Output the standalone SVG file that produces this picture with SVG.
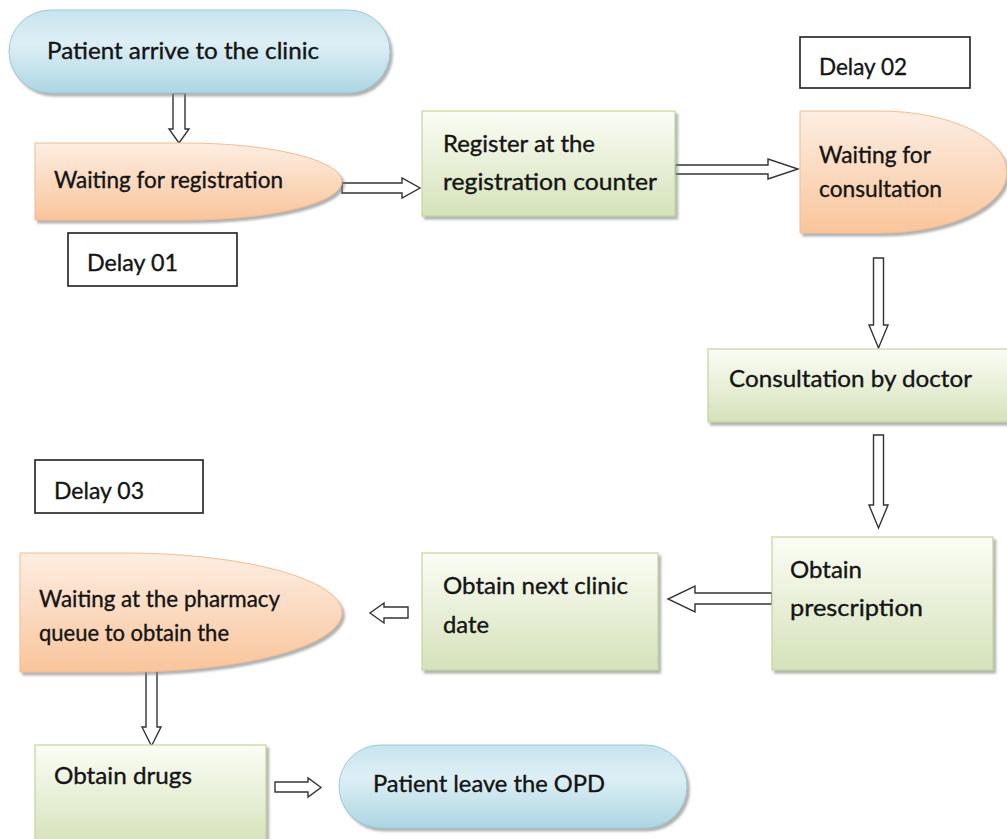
<svg xmlns="http://www.w3.org/2000/svg" width="1007" height="839" viewBox="0 0 1007 839">
<defs>
<linearGradient id="gBlue" x1="0" y1="0" x2="0" y2="1">
<stop offset="0" stop-color="#c8e4ee"/>
<stop offset="0.4" stop-color="#ddeff5"/>
<stop offset="1" stop-color="#acd6e3"/>
</linearGradient>
<linearGradient id="gOrange" x1="0" y1="0" x2="0" y2="1">
<stop offset="0" stop-color="#fdeee3"/>
<stop offset="1" stop-color="#f9c59b"/>
</linearGradient>
<linearGradient id="gGreen" x1="0" y1="0" x2="0" y2="1">
<stop offset="0" stop-color="#fbfdf5"/>
<stop offset="1" stop-color="#d5e2ba"/>
</linearGradient>
<filter id="sh" x="-10%" y="-10%" width="130%" height="140%">
<feDropShadow dx="2.5" dy="3" stdDeviation="1.2" flood-color="#7f7f7f" flood-opacity="0.6"/>
</filter>
<style>
.t{font-family:Lato,"Liberation Sans",sans-serif;font-size:23.5px;fill:#141414;stroke:#141414;stroke-width:0.35}
.blue{fill:url(#gBlue);stroke:#9cc8d7;stroke-width:1;filter:url(#sh)}
.orange{fill:url(#gOrange);stroke:#f4bb90;stroke-width:1;filter:url(#sh)}
.green{fill:url(#gGreen);stroke:#c3d69b;stroke-width:1.2;filter:url(#sh)}
.delay{fill:#fff;stroke:#1e1e1e;stroke-width:1.6}
.arrow{fill:#fff;stroke:#333;stroke-width:1.4;stroke-linejoin:miter}
</style>
</defs>
<rect width="1007" height="839" fill="#fff"/>

<g id="connectors">
<path class="arrow" d="M173,93 H185 V129 H189 L179,143 L169,129 H173 Z"/>
<path class="arrow" d="M342,183 H402 V178 L420,188 L402,198 V193 H342 Z"/>
<path class="arrow" d="M675,165 H768 V159 L798,169 L768,179 V174 H675 Z"/>
<path class="arrow" d="M873.5,258 H883.5 V325 H888 L878.5,348 L869,325 H873.5 Z"/>
<path class="arrow" d="M873.5,435 H883.5 V505 H888 L878.5,528 L869,505 H873.5 Z"/>
<path class="arrow" d="M772,593 H695 V586 L668,599 L695,612 V604 H772 Z"/>
<path class="arrow" d="M408,607 H384 V603 L370,613 L384,623 V618 H408 Z"/>
<path class="arrow" d="M146,669 H157 V727 H161 L151.5,746 L142,727 H146 Z"/>
<path class="arrow" d="M275,782 H308 V778 L321,787.5 L308,797 V792 H275 Z"/>
</g>

<g id="patient-arrive">
<rect class="blue" x="9" y="10" width="381" height="83" rx="41.5"/>
<text class="t" x="47" y="59" textLength="272" lengthAdjust="spacingAndGlyphs">Patient arrive to the clinic</text>
</g>

<g id="waiting-registration">
<path class="orange" d="M35,143 H185 A157,38.5 0 0 1 185,220 H35 Z"/>
<text class="t" x="54" y="188" textLength="229" lengthAdjust="spacingAndGlyphs">Waiting for registration</text>
</g>

<g id="delay-01">
<rect class="delay" x="68" y="233" width="169" height="53"/>
<text class="t" x="87" y="271" textLength="91" lengthAdjust="spacingAndGlyphs">Delay 01</text>
</g>

<g id="register">
<rect class="green" x="422" y="111" width="253" height="105"/>
<text class="t" x="443" y="152" textLength="152" lengthAdjust="spacingAndGlyphs">Register at the</text>
<text class="t" x="443" y="190" textLength="214" lengthAdjust="spacingAndGlyphs">registration counter</text>
</g>

<g id="delay-02">
<rect class="delay" x="800" y="37" width="170" height="51"/>
<text class="t" x="819" y="75" textLength="88" lengthAdjust="spacingAndGlyphs">Delay 02</text>
</g>

<g id="waiting-consultation">
<path class="orange" d="M800,111 H880 A127,61 0 0 1 880,233 H800 Z"/>
<text class="t" x="819" y="163" textLength="112" lengthAdjust="spacingAndGlyphs">Waiting for</text>
<text class="t" x="819" y="197" textLength="123" lengthAdjust="spacingAndGlyphs">consultation</text>
</g>

<g id="consultation-doctor">
<rect class="green" x="708" y="349" width="305" height="73"/>
<text class="t" x="729" y="387" textLength="243" lengthAdjust="spacingAndGlyphs">Consultation by doctor</text>
</g>

<g id="obtain-prescription">
<rect class="green" x="772" y="537" width="221" height="133"/>
<text class="t" x="790" y="578" textLength="72" lengthAdjust="spacingAndGlyphs">Obtain</text>
<text class="t" x="790" y="616" textLength="133" lengthAdjust="spacingAndGlyphs">prescription</text>
</g>

<g id="obtain-next-date">
<rect class="green" x="422" y="553" width="236" height="117"/>
<text class="t" x="443" y="594" textLength="185" lengthAdjust="spacingAndGlyphs">Obtain next clinic</text>
<text class="t" x="443" y="633" textLength="46" lengthAdjust="spacingAndGlyphs">date</text>
</g>

<g id="delay-03">
<rect class="delay" x="35" y="460" width="168" height="53"/>
<text class="t" x="54" y="499" textLength="90" lengthAdjust="spacingAndGlyphs">Delay 03</text>
</g>

<g id="waiting-pharmacy">
<path class="orange" d="M20,553 H125 A217,59.5 0 0 1 125,672 H20 Z"/>
<text class="t" x="39" y="607" textLength="241" lengthAdjust="spacingAndGlyphs">Waiting at the pharmacy</text>
<text class="t" x="39" y="641" textLength="190" lengthAdjust="spacingAndGlyphs">queue to obtain the</text>
</g>

<g id="obtain-drugs">
<rect class="green" x="35" y="745" width="231" height="100"/>
<text class="t" x="54" y="784" textLength="138" lengthAdjust="spacingAndGlyphs">Obtain drugs</text>
</g>

<g id="patient-leave">
<rect class="blue" x="339" y="745" width="348" height="83" rx="41.5"/>
<text class="t" x="373" y="792" textLength="232" lengthAdjust="spacingAndGlyphs">Patient leave the OPD</text>
</g>
</svg>
